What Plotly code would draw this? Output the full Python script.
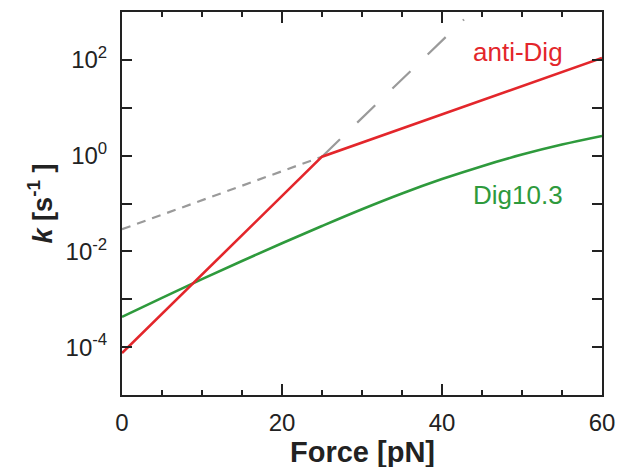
import plotly.graph_objects as go

# ---- data ----
force_grid = [0, 5, 10, 15, 20, 25, 30, 35, 40, 45, 50, 55, 60]
dig103_k = [4.27e-4, 1.07e-3, 2.63e-3, 6.31e-3, 1.48e-2, 3.39e-2, 7.59e-2,
            0.162, 0.324, 0.603, 1.05, 1.70, 2.57]

antidig_force = [0, 25, 60]
antidig_k = [7.5e-5, 0.95, 110]

steep_ext_force = [25, 42.75]
steep_ext_k = [0.95, 700]

shallow_ext_force = [0, 25]
shallow_ext_k = [0.029, 0.95]

y_tickvals = [1e-4, 1e-2, 1e0, 1e2]
y_ticktext = ["10<sup>-4</sup>", "10<sup>-2</sup>", "10<sup>0</sup>", "10<sup>2</sup>"]
y_minor_tickvals = [1e-3, 1e-1, 1e1]
x_tickvals = [0, 20, 40, 60]
x_ticktext = ["0", "20", "40", "60"]

RED = "#e3262b"
GREEN = "#2e9a3c"
GRAY = "#9a9a9a"
FONT = "Liberation Sans, Arial, sans-serif"

fig = go.Figure()
fig.add_trace(go.Scatter(x=shallow_ext_force, y=shallow_ext_k, mode="lines",
                         line=dict(color=GRAY, width=2.2, dash="9px,7px"),
                         hoverinfo="skip", showlegend=False))
fig.add_trace(go.Scatter(x=steep_ext_force, y=steep_ext_k, mode="lines",
                         line=dict(color=GRAY, width=2.2, dash="25px,24px"),
                         hoverinfo="skip", showlegend=False))
fig.add_trace(go.Scatter(x=force_grid, y=dig103_k, mode="lines", name="Dig10.3",
                         line=dict(color=GREEN, width=2.6, shape="spline"),
                         showlegend=False))
fig.add_trace(go.Scatter(x=antidig_force, y=antidig_k, mode="lines", name="anti-Dig",
                         line=dict(color=RED, width=2.6),
                         showlegend=False))

fig.add_annotation(x=49.5, y=2.16, xref="x", yref="y", text="anti-Dig",
                   showarrow=False, font=dict(family=FONT, size=26, color=RED))
fig.add_annotation(x=49.5, y=-0.82, xref="x", yref="y", text="Dig10.3",
                   showarrow=False, font=dict(family=FONT, size=26, color=GREEN))

fig.add_annotation(x=0.5, y=-0.148, xref="paper", yref="paper",
                   text="<b>Force [pN]</b>", showarrow=False,
                   font=dict(family=FONT, size=29, color="#222"),
                   xanchor="center", yanchor="middle")
fig.add_annotation(x=-0.171, y=0.5, xref="paper", yref="paper",
                   text="<b><i>k</i> [s<sup>-1</sup> ]</b>", showarrow=False,
                   textangle=-90,
                   font=dict(family=FONT, size=27, color="#222"),
                   xanchor="center", yanchor="middle")

fig.update_layout(
    width=618, height=467,
    margin=dict(l=122, r=16, t=12, b=72, autoexpand=False),
    paper_bgcolor="white", plot_bgcolor="white",
    font=dict(family=FONT, size=24, color="#222"),
)
fig.update_xaxes(
    range=[0, 60], tickvals=x_tickvals, ticktext=x_ticktext, automargin=False,
    ticks="inside", ticklen=11, tickwidth=2, tickcolor="#222",
    showline=True, linewidth=2, linecolor="#222", mirror="ticks",
    showgrid=False, zeroline=False, ticklabelstandoff=5,
    minor=dict(dtick=5, ticks="inside", ticklen=5, tickwidth=2, tickcolor="#222", showgrid=False),
)
fig.update_yaxes(
    type="log", range=[-5, 3], tickvals=y_tickvals, ticktext=y_ticktext, automargin=False,
    ticks="inside", ticklen=10, tickwidth=2, tickcolor="#222",
    showline=True, linewidth=2, linecolor="#222", mirror="ticks",
    showgrid=False, zeroline=False, ticklabelstandoff=8,
    minor=dict(tickmode="array", tickvals=y_minor_tickvals, ticks="inside",
               ticklen=10, tickwidth=2, tickcolor="#222", showgrid=False),
)

fig.write_html(
    "out.html",
    config={"responsive": False, "displayModeBar": False, "staticPlot": True},
    post_script="document.body.style.margin='0';",
)
